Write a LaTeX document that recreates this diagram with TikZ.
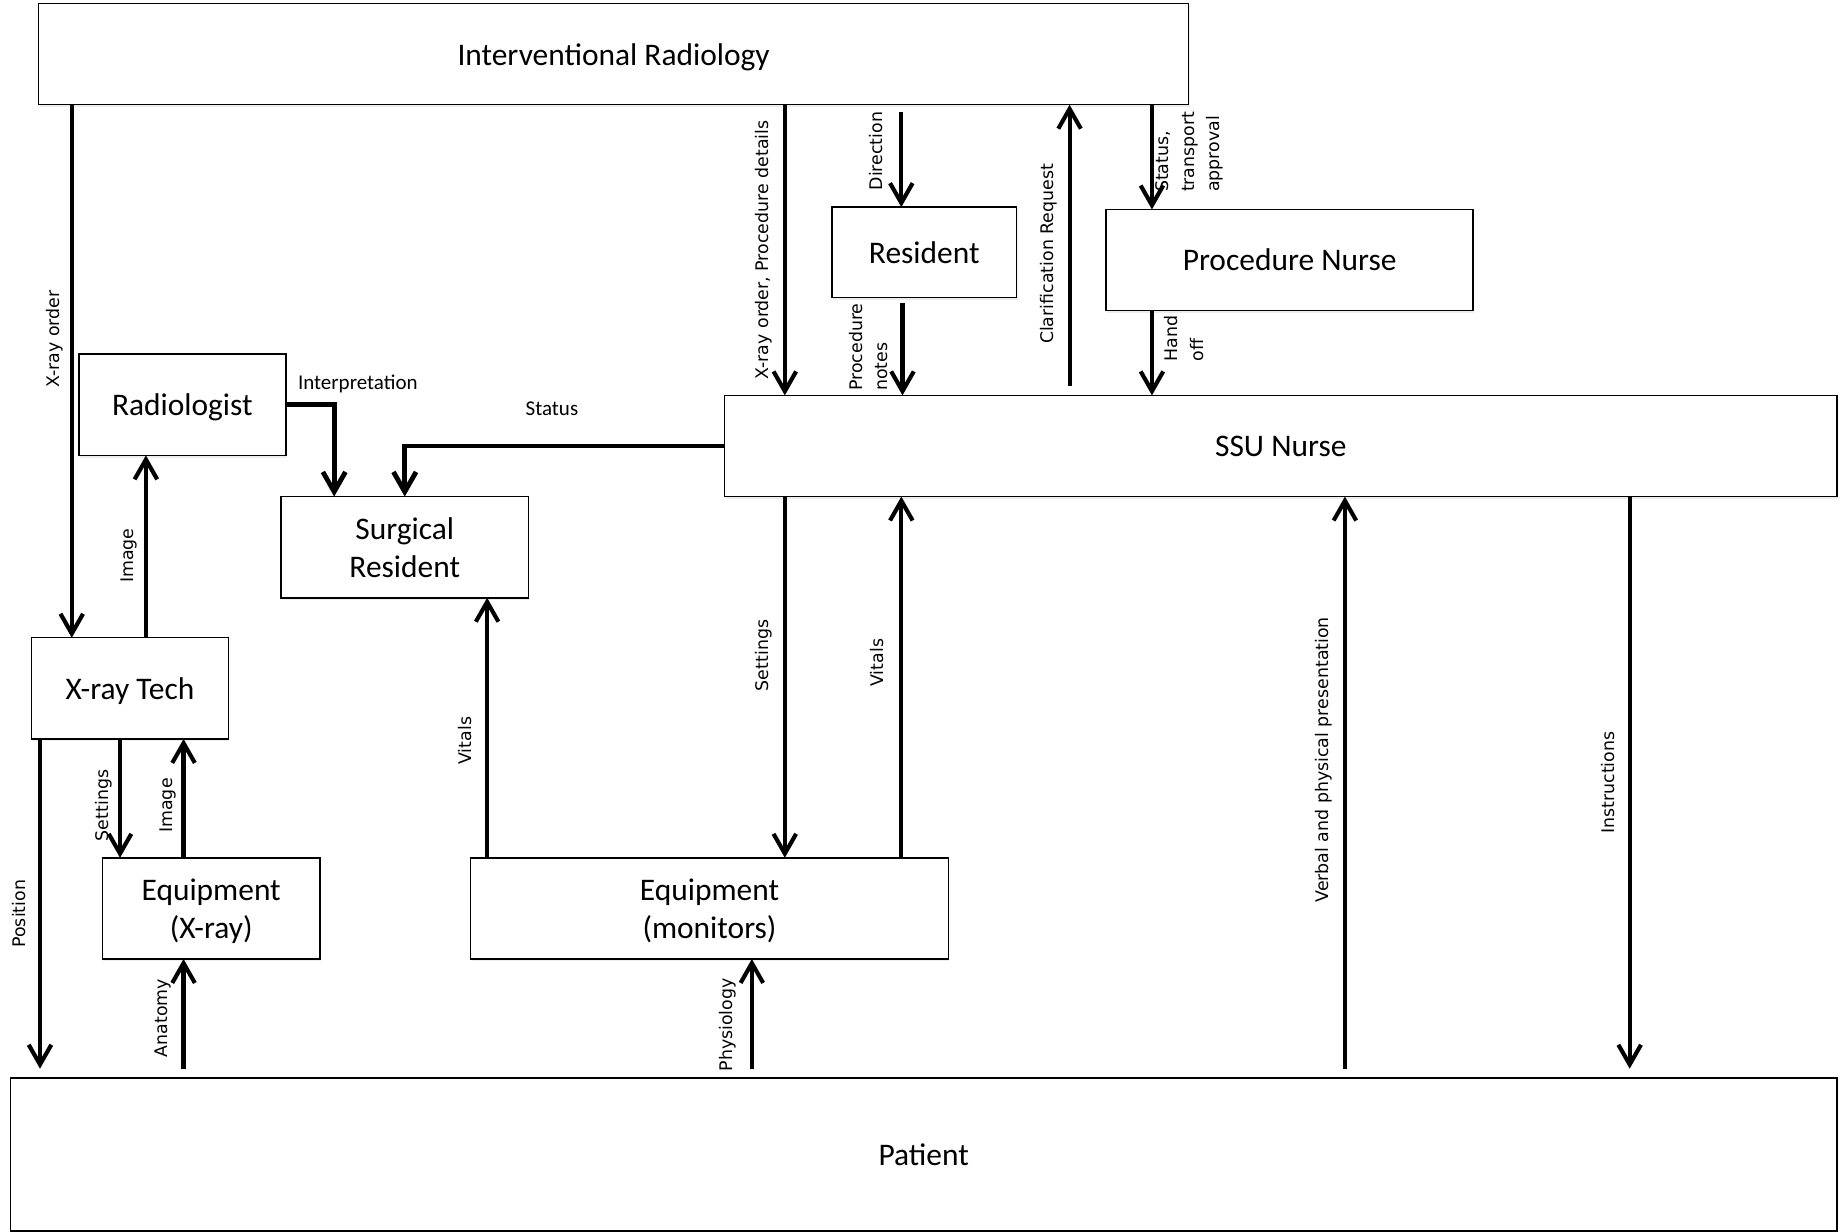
\documentclass[tikz,border=0pt]{standalone}
\usepackage{fontspec}
\setmainfont{Carlito}
\newfontfamily\flowfont{DejaVu Sans}
\usetikzlibrary{arrows.meta, shadows}

\begin{document}
\begin{tikzpicture}[
		x=0.025cm, y=-0.025cm,
		box/.style={draw, fill=white, line width=0.9pt, inner sep=0pt, outer sep=0pt, align=center, minimum height=2.15cm, text depth=0pt, font=\fontsize{19}{23}\selectfont, drop shadow={shadow xshift=0.6pt, shadow yshift=-1.3pt, fill=black!14}},
		arrow/.style={-{Straight Barb[length=4.2mm, width=4.8mm]}, line width=2.5pt},
		flow/.style={rotate=90, align=left, inner sep=6.5pt, font=\flowfont\fontsize{10.5}{15.5}\selectfont},
		note/.style={inner sep=0pt, font=\fontsize{12.7}{15}\selectfont}
		]
		\useasboundingbox (0,0) rectangle (1568,1047);
		
		% BOXES
		\node[box, minimum width=24.425cm] (ir) at (521.5,46) {Interventional Radiology};
		\node[box, minimum width=3.925cm, minimum height=1.925cm] (res) at (785.5,214.5) {Resident};
		\node[box, minimum width=7.8cm] (pnurse) at (1096,221) {Procedure Nurse};
		\node[box, minimum width=4.4cm] (rad) at (155,344) {Radiologist};
		\node[box, minimum width=23.625cm] (ssu) at (1088.5,379) {SSU Nurse};
		\node[box, minimum width=5.25cm] (surg) at (344,465) {Surgical\\Resident};
		\node[box, minimum width=4.175cm] (xtech) at (110.5,585) {X-ray Tech};
		\node[box, minimum width=4.625cm] (eqx) at (179.5,772) {Equipment\\(X-ray)};
		\node[box, minimum width=10.15cm] (eqm) at (603,772) {Equipment\\(monitors)};
		\node[box, minimum width=38.8cm, minimum height=3.25cm] (patient) at (785,981) {Patient};
		
		% free ends just off the boxes
		\coordinate (irb) at ([yshift=-4.5pt]ir.south);
		\coordinate (resb) at ([yshift=-3pt]res.south);
		\coordinate (ssut) at ([yshift=5.5pt]ssu.north);
		\coordinate (patt) at ([yshift=5.5pt]patient.north);
		
		% CONNECTIONS
		\draw[arrow] (ir.south -| 61,0) -- (xtech.north -| 61,0) node[flow, anchor=south, inner sep=4pt, pos=0.44] {X-ray order};
		\draw[arrow] (xtech.north -| 124,0) -- (rad.south -| 124,0) node[flow, anchor=south, inner sep=4pt, pos=0.45] {Image};
		\draw[arrow, line width=2.9pt] (rad.east) -| (surg.north -| 284,0) node[note, anchor=south west, pos=0.1, yshift=6pt] {Interpretation};
		\draw[arrow, line width=2.9pt] (ssu.west) -| (surg.north -| 344,0) node[note, above=17pt, pos=0.27] {Status};
		\draw[arrow] (ir.south -| 667,0) -- (ssu.north -| 667,0) node[flow, anchor=south, pos=0.5] {X-ray order, Procedure details};
		\draw[arrow] (irb -| 766,0) -- (res.north -| 766,0) node[flow, anchor=south, inner sep=10pt, pos=0.41] {Direction};
		\draw[arrow] (resb -| 767,0) -- (ssu.north -| 767,0) node[flow, anchor=south, inner sep=7.5pt, pos=0.48] {Procedure\\notes};
		\draw[arrow] (ssut -| 909,0) -- (ir.south -| 909,0) node[flow, anchor=south, pos=0.47] {Clarification Request};
		\draw[arrow] (ir.south -| 979,0) -- (pnurse.north -| 979,0) node[flow, anchor=north, inner sep=1pt, pos=0.45] {Status,\\transport\\approval};
		\draw[arrow] (pnurse.south -| 979,0) -- (ssu.north -| 979,0) node[flow, anchor=north, pos=0.33] {Hand\\off};
		\draw[arrow] (ssu.south -| 667,0) -- (eqm.north -| 667,0) node[flow, anchor=south, pos=0.44] {Settings};
		\draw[arrow] (eqm.north -| 766,0) -- (ssu.south -| 766,0) node[flow, anchor=south, inner sep=9.5pt, pos=0.54] {Vitals};
		\draw[arrow] (eqm.north -| 414,0) -- (surg.south -| 414,0) node[flow, anchor=south, inner sep=8pt, pos=0.45] {Vitals};
		\draw[arrow] (patt -| 1143,0) -- (ssu.south -| 1143,0) node[flow, anchor=south, pos=0.54] {Verbal and physical presentation};
		\draw[arrow] (ssu.south -| 1385,0) -- (patt -| 1385,0) node[flow, anchor=south, inner sep=8pt, pos=0.5] {Instructions};
		\draw[arrow] (xtech.south -| 34,0) -- (patt -| 34,0) node[flow, anchor=south, inner sep=7.5pt, pos=0.53] {Position};
		\draw[arrow] (xtech.south -| 102,0) -- (eqx.north -| 102,0) node[flow, anchor=south, inner sep=3.5pt, pos=0.56] {Settings};
		\draw[arrow] (eqx.north -| 156,0) -- (xtech.south -| 156,0) node[flow, anchor=south, inner sep=3.5pt, pos=0.44] {Image};
		\draw[arrow] (patt -| 156,0) -- (eqx.south -| 156,0) node[flow, anchor=south, pos=0.46] {Anatomy};
		\draw[arrow] (patt -| 639,0) -- (eqm.south -| 639,0) node[flow, anchor=south, inner sep=8pt, pos=0.4] {Physiology};
		
	\end{tikzpicture}
\end{document}
